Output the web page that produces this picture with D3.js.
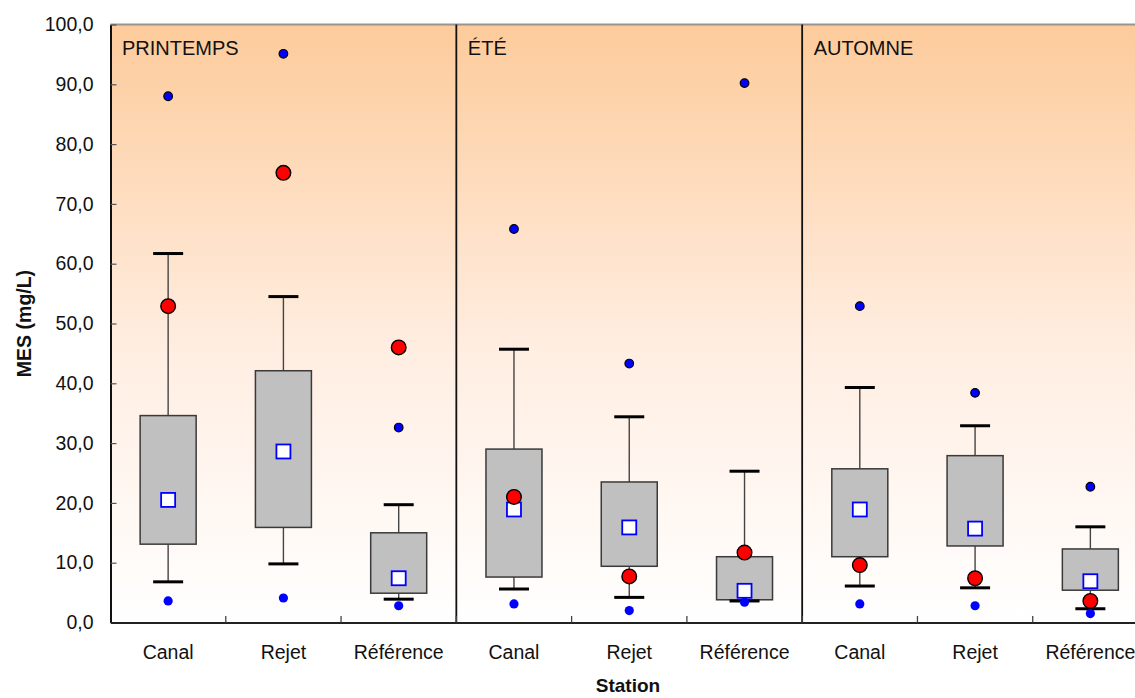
<!DOCTYPE html>
<html>
<head>
<meta charset="utf-8">
<script src="https://cdn.jsdelivr.net/npm/d3@7"></script>
<style>
  html, body { margin: 0; padding: 0; background: #fff; }
  svg { display: block; font-family: "Liberation Sans", Arial, sans-serif; }
</style>
</head>
<body>
<svg id="chart" width="1135" height="698"></svg>
<script>
// Seasons and stations
const seasons = ["PRINTEMPS", "ÉTÉ", "AUTOMNE"];
const stations = ["Canal", "Rejet", "Référence"];

// One entry per season × station (PRINTEMPS Canal, Rejet, Référence, ÉTÉ ..., AUTOMNE ...)
const whiskerLow  = [6.8, 9.8, 3.9,   5.6, 4.2, 3.6,   6.1, 5.8, 2.3];
const q1          = [13.1, 15.9, 4.9, 7.6, 9.4, 3.8,   11.0, 12.8, 5.4];
const q3          = [34.6, 42.1, 15.0, 29.0, 23.5, 11.0, 25.7, 27.9, 12.3];
const whiskerHigh = [61.7, 54.5, 19.7, 45.7, 34.4, 25.3, 39.3, 32.9, 16.0];
const meanVals    = [20.5, 28.6, 7.4,  18.9, 15.9, 5.3,  18.9, 15.7, 6.9];
const obsVals     = [52.9, 75.2, 46.0, 21.0, 7.7, 11.7,  9.6, 7.4, 3.6];
const maxVals     = [88.0, 95.1, 32.6, 65.8, 43.3, 90.2, 52.9, 38.4, 22.7];
const minVals     = [3.6, 4.1, 2.8,    3.1, 2.0, 3.4,    3.1, 2.8, 1.5];

const yTicks = [0, 10, 20, 30, 40, 50, 60, 70, 80, 90, 100];

const rows = [];
seasons.forEach((s, si) => stations.forEach((st, ti) => {
  const i = si * stations.length + ti;
  rows.push({
    key: s + "|" + st, season: s, station: st,
    lo: whiskerLow[i], q1: q1[i], q3: q3[i], hi: whiskerHigh[i],
    mean: meanVals[i], obs: obsVals[i], max: maxVals[i], min: minVals[i]
  });
}));

const svg = d3.select("#chart");
const plot = { left: 110.5, right: 1148, top: 24.5, bottom: 622.5 };

const x = d3.scaleBand().domain(rows.map(d => d.key)).range([plot.left, plot.right]).padding(0);
const y = d3.scaleLinear().domain([0, 100]).range([plot.bottom, plot.top]);
const cx = d => x(d.key) + x.bandwidth() / 2;

// Background gradient
const defs = svg.append("defs");
const grad = defs.append("linearGradient").attr("id", "bg").attr("x1", 0).attr("y1", 0).attr("x2", 0).attr("y2", 1);
grad.append("stop").attr("offset", "0%").attr("stop-color", "#fdcb9b");
grad.append("stop").attr("offset", "55%").attr("stop-color", "#ffeee2");
grad.append("stop").attr("offset", "100%").attr("stop-color", "#ffffff");

svg.append("rect")
  .attr("x", plot.left).attr("y", plot.top)
  .attr("width", plot.right - plot.left).attr("height", plot.bottom - plot.top)
  .attr("fill", "url(#bg)");

// Top border
svg.append("line")
  .attr("x1", plot.left).attr("x2", plot.right)
  .attr("y1", plot.top).attr("y2", plot.top)
  .attr("stroke", "#9a9490").attr("stroke-width", 2);

// Season dividers
const seasonStarts = seasons.map((s, si) => x(rows[si * stations.length].key));
svg.selectAll("line.divider").data(seasonStarts.slice(1)).join("line")
  .attr("class", "divider")
  .attr("x1", d => d).attr("x2", d => d)
  .attr("y1", plot.top).attr("y2", plot.bottom)
  .attr("stroke", "#111").attr("stroke-width", 1.8);

// Season labels
svg.selectAll("text.season").data(seasons).join("text")
  .attr("class", "season")
  .attr("x", (d, i) => seasonStarts[i] + 11.5)
  .attr("y", 55)
  .attr("font-size", 20)
  .attr("fill", "#111")
  .text(d => d);

// Y axis
const yAxis = d3.axisLeft(y).tickValues(yTicks).tickSizeInner(-6).tickSizeOuter(0)
  .tickFormat(d => d3.format(".1f")(d).replace(".", ","));
const gy = svg.append("g").attr("transform", `translate(${plot.left},0)`).call(yAxis);
gy.select(".domain").attr("stroke", "#111").attr("stroke-width", 2);
gy.selectAll(".tick line").attr("stroke", "#555").attr("stroke-width", 1.2);
gy.selectAll(".tick text")
  .attr("x", -17).attr("font-size", 19.5).attr("fill", "#111")
  .attr("font-family", "Liberation Sans, Arial, sans-serif");

// X axis
const xAxis = d3.axisBottom(x).tickSizeInner(0).tickSizeOuter(0).tickFormat(k => k.split("|")[1]);
const gx = svg.append("g").attr("transform", `translate(0,${plot.bottom})`).call(xAxis);
gx.select(".domain").attr("stroke", "#222").attr("stroke-width", 2);
gx.selectAll(".tick text")
  .attr("y", 23).attr("font-size", 19.5).attr("fill", "#111")
  .attr("font-family", "Liberation Sans, Arial, sans-serif");
// category separators pointing inward
svg.selectAll("line.catTick").data(rows.slice(1)).join("line")
  .attr("class", "catTick")
  .attr("x1", d => x(d.key)).attr("x2", d => x(d.key))
  .attr("y1", plot.bottom).attr("y2", plot.bottom - 6.5)
  .attr("stroke", "#444").attr("stroke-width", 1.3);

// Axis titles
svg.append("text")
  .attr("transform", `translate(31,${(plot.top + plot.bottom) / 2}) rotate(-90)`)
  .attr("text-anchor", "middle").attr("font-size", 19.5).attr("font-weight", "bold").attr("fill", "#111")
  .text("MES (mg/L)");
svg.append("text")
  .attr("x", 628).attr("y", 692)
  .attr("text-anchor", "middle").attr("font-size", 19).attr("font-weight", "bold").attr("fill", "#111")
  .text("Station");

// Box plots
const boxW = 56, capW = 30;
const g = svg.append("g");

g.selectAll("line.whiskHi").data(rows).join("line")
  .attr("x1", cx).attr("x2", cx)
  .attr("y1", d => y(d.q3)).attr("y2", d => y(d.hi))
  .attr("stroke", "#444").attr("stroke-width", 1.4);
g.selectAll("line.whiskLo").data(rows).join("line")
  .attr("x1", cx).attr("x2", cx)
  .attr("y1", d => y(d.q1)).attr("y2", d => y(d.lo))
  .attr("stroke", "#444").attr("stroke-width", 1.4);

g.selectAll("rect.box").data(rows).join("rect")
  .attr("class", "box")
  .attr("x", d => cx(d) - boxW / 2).attr("width", boxW)
  .attr("y", d => y(d.q3)).attr("height", d => y(d.q1) - y(d.q3))
  .attr("fill", "#c0c0c0").attr("stroke", "#3a3a3a").attr("stroke-width", 1.5);

["hi", "lo"].forEach(k => {
  g.selectAll("line.cap-" + k).data(rows).join("line")
    .attr("class", "cap-" + k)
    .attr("x1", d => cx(d) - capW / 2).attr("x2", d => cx(d) + capW / 2)
    .attr("y1", d => y(d[k])).attr("y2", d => y(d[k]))
    .attr("stroke", "#000").attr("stroke-width", 3);
});

// Extremes
g.selectAll("circle.max").data(rows).join("circle")
  .attr("cx", cx).attr("cy", d => y(d.max)).attr("r", 4.3)
  .attr("fill", "#0000ff").attr("stroke", "#000").attr("stroke-width", 1.2);
g.selectAll("circle.min").data(rows).join("circle")
  .attr("cx", cx).attr("cy", d => y(d.min)).attr("r", 4.6)
  .attr("fill", "#0000ff");

// Means
const sq = 14;
g.selectAll("rect.mean").data(rows).join("rect")
  .attr("x", d => cx(d) - sq / 2).attr("y", d => y(d.mean) - sq / 2)
  .attr("width", sq).attr("height", sq)
  .attr("fill", "#fff").attr("stroke", "#0000ff").attr("stroke-width", 1.8);

// Observed values
g.selectAll("circle.obs").data(rows).join("circle")
  .attr("cx", cx).attr("cy", d => y(d.obs)).attr("r", 7.3)
  .attr("fill", "#ff0000").attr("stroke", "#000").attr("stroke-width", 1.4);
</script>
</body>
</html>
